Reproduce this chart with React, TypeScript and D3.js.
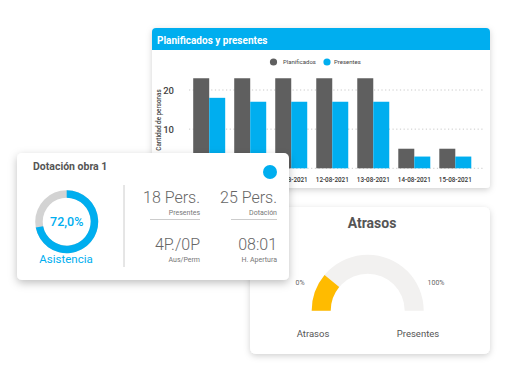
import React from "react";
import * as d3 from "d3";

const dates = ["09-08-2021", "10-08-2021", "11-08-2021", "12-08-2021", "13-08-2021", "14-08-2021", "15-08-2021"];
const series = ["Planificados", "Presentes"];
const planificados = [23, 23, 23, 23, 23, 5, 5];
const presentes = [18, 17, 17, 17, 17, 3, 3];
const yTicks = [0, 10, 20];
const asistencia = 72.0;
const atrasosPct = 22;

const BLUE = "#00aeef";
const DARK = "#5f5f5f";
const FONT = "Roboto, 'Open Sans', sans-serif";

export default function App() {
  const x = d3.scaleBand<string>().domain(dates).range([185, 479.5]).paddingInner(0.22).paddingOuter(0.2);
  const xs = d3.scaleBand<string>().domain(series).range([0, x.bandwidth()]);
  const y = d3.scaleLinear().domain([0, 20]).range([168.3, 90]);
  const colors = d3.scaleOrdinal<string, string>().domain(series).range([DARK, BLUE]);
  const values = [planificados, presentes];

  const donutArc = d3.arc<any>().innerRadius(24).outerRadius(31.5);
  const blueEnd = (asistencia / 100) * 2 * Math.PI;

  const gaugeArc = d3.arc<any>().innerRadius(37).outerRadius(56);
  const gScale = d3.scaleLinear().domain([0, 100]).range([-Math.PI / 2, Math.PI / 2]);

  return (
    <svg width={512} height={383} style={{ position: "absolute", left: 0, top: 0, background: "#fff" }} fontFamily={FONT}>
      <defs>
        <filter id="sh" x="-20%" y="-20%" width="140%" height="150%">
          <feDropShadow dx="0" dy="2" stdDeviation="3" floodColor="#000" floodOpacity="0.18" />
        </filter>
        <filter id="sh2" x="-20%" y="-20%" width="140%" height="150%">
          <feDropShadow dx="0" dy="3" stdDeviation="4" floodColor="#000" floodOpacity="0.25" />
        </filter>
        <clipPath id="topclip">
          <rect x={152} y={28} width={338} height={160} rx={4} />
        </clipPath>
      </defs>

      {/* Top card */}
      <rect x={152} y={28} width={338} height={160} rx={4} fill="#fff" filter="url(#sh)" />
      <g clipPath="url(#topclip)">
        <rect x={152} y={28} width={338} height={22} fill={BLUE} />
      </g>
      <text x={157} y={43.5} fill="#fff" fontSize={10} fontWeight={700}>Planificados y presentes</text>

      {/* legend */}
      {series.map((s, i) => (
        <g key={s}>
          <circle cx={i === 0 ? 273.5 : 327} cy={62} r={3.6} fill={colors(s)} />
          <text x={i === 0 ? 283 : 334} y={64.2} fontSize={6} fill="#444">{s}</text>
        </g>
      ))}

      {/* grid */}
      {yTicks.map((t) => (
        <g key={t}>
          <line x1={189} x2={483} y1={y(t)} y2={y(t)} stroke="#bbb" strokeWidth={0.8} strokeDasharray="1.2,2.5" />
          <text x={174} y={y(t) + 3.5} fontSize={9.5} fill="#444" textAnchor="end" fontWeight={500}>{t}</text>
        </g>
      ))}
      <text transform={`translate(160.5,120) rotate(-90)`} fontSize={6.3} fill="#444" textAnchor="middle" fontWeight={500}>Cantidad de personas</text>

      {/* bars */}
      {dates.map((d, i) => (
        <g key={d} transform={`translate(${x(d)},0)`}>
          {series.map((s, j) => (
            <rect key={s} x={xs(s)} y={y(values[j][i])} width={xs.bandwidth()} height={y(0) - y(values[j][i])} fill={colors(s)} />
          ))}
          <text x={x.bandwidth() / 2} y={181.5} fontSize={6.3} fill="#333" textAnchor="middle" fontWeight={500}>{d}</text>
        </g>
      ))}

      {/* Bottom card */}
      <rect x={250} y={207} width={240} height={147} rx={6} fill="#fff" filter="url(#sh)" />
      <text x={372} y={228} fontSize={14} fontWeight={700} fill="#555" textAnchor="middle">Atrasos</text>
      <g transform="translate(367.7,310.7)">
        <path d={gaugeArc({ startAngle: gScale(0), endAngle: gScale(100) }) || ""} fill="#f2f1f0" />
        <path d={gaugeArc({ startAngle: gScale(0), endAngle: gScale(atrasosPct) }) || ""} fill="#ffbb00" />
      </g>
      <text x={300} y={285} fontSize={7} fill="#666" textAnchor="middle">0%</text>
      <text x={436} y={285} fontSize={7} fill="#666" textAnchor="middle">100%</text>
      <text x={313} y={337} fontSize={9.5} fill="#555" textAnchor="middle">Atrasos</text>
      <text x={418} y={337} fontSize={9.5} fill="#555" textAnchor="middle">Presentes</text>

      {/* Front card */}
      <rect x={17} y={153} width={272} height={127} rx={5} fill="#fff" filter="url(#sh2)" />
      <text x={33} y={170} fontSize={10.5} fontWeight={700} fill="#555">Dotación obra 1</text>
      <circle cx={270} cy={172} r={7} fill={BLUE} />

      <g transform="translate(66.7,221.7)">
        <path d={donutArc({ startAngle: 0, endAngle: 2 * Math.PI }) || ""} fill="#d3d3d3" />
        <path d={donutArc({ startAngle: 0, endAngle: blueEnd }) || ""} fill={BLUE} />
        <text y={4.5} fontSize={12.5} fontWeight={500} fill={BLUE} textAnchor="middle">{`${asistencia.toFixed(1).replace(".", ",")}%`}</text>
      </g>
      <text x={66} y={263} fontSize={11.5} fill={BLUE} textAnchor="middle">Asistencia</text>

      <line x1={124} x2={124} y1={185} y2={267} stroke="#ccc" strokeWidth={1} />

      <text x={200} y={203} fontSize={16} fontWeight={300} fill="#666" textAnchor="end">18 Pers.</text>
      <text x={200} y={215} fontSize={7} fill="#777" textAnchor="end">Presentes</text>
      <line x1={150} x2={200} y1={219.5} y2={219.5} stroke="#ccc" strokeWidth={1} />
      <text x={277} y={203} fontSize={16} fontWeight={300} fill="#666" textAnchor="end">25 Pers.</text>
      <text x={277} y={215} fontSize={7} fill="#777" textAnchor="end">Dotación</text>
      <line x1={231} x2={277} y1={219.5} y2={219.5} stroke="#ccc" strokeWidth={1} />

      <text x={200} y={250} fontSize={16} fontWeight={300} fill="#666" textAnchor="end">4P./0P</text>
      <text x={200} y={262} fontSize={7} fill="#777" textAnchor="end">Aus/Perm</text>
      <text x={277} y={250} fontSize={16} fontWeight={300} fill="#666" textAnchor="end">08:01</text>
      <text x={277} y={262} fontSize={7} fill="#777" textAnchor="end">H. Apertura</text>
    </svg>
  );
}
